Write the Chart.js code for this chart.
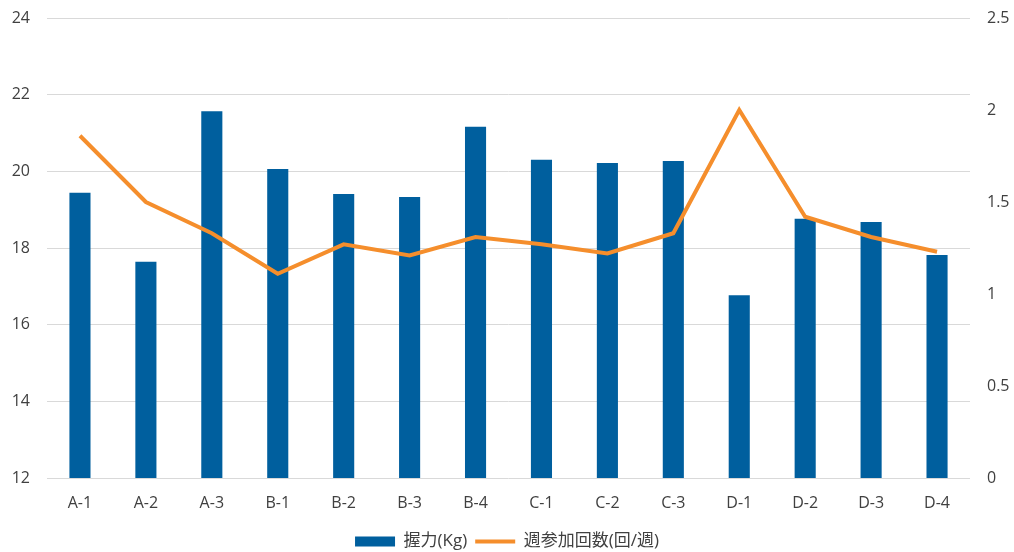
<!DOCTYPE html>
<html>
<head>
<meta charset="utf-8">
<script src="https://cdn.jsdelivr.net/npm/chart.js@4/dist/chart.umd.min.js"></script>
<style>
  html, body { margin: 0; padding: 0; background: #fff; }
  #wrap { width: 1014px; height: 552px; }
</style>
</head>
<body>
<div id="wrap"><canvas id="c" width="1014" height="552"></canvas></div>
<script>
// Groups along the x axis
const categories = ['A-1','A-2','A-3','B-1','B-2','B-3','B-4','C-1','C-2','C-3','D-1','D-2','D-3','D-4'];
// Grip strength (kg), left axis
const gripKg = [19.44, 17.64, 21.57, 20.06, 19.41, 19.33, 21.16, 20.30, 20.22, 20.27, 16.77, 18.76, 18.68, 17.82];
// Sessions attended per week, right axis
const weeklyVisits = [1.86, 1.50, 1.33, 1.11, 1.27, 1.21, 1.31, 1.27, 1.22, 1.33, 2.00, 1.42, 1.31, 1.23];
// Axis ranges and tick steps
const leftTicks = { min: 12, max: 24, step: 2 };
const rightTicks = { min: 0, max: 2.5, step: 0.5 };

const FONT = '"Open Sans", "Noto Sans CJK JP", sans-serif';
const TEXT = '#404040';
const SIZE = 16;

// vertical axes: fixed width, no extra room reserved for label overhang
const fixY = (w) => (s) => { s.width = w; s.paddingTop = 0; s.paddingBottom = 0; };

new Chart(document.getElementById('c'), {
  data: {
    labels: categories,
    datasets: [
      {
        type: 'bar',
        label: '握力(Kg)',
        data: gripKg,
        yAxisID: 'y',
        backgroundColor: '#005F9E',
        borderWidth: 0,
        barPercentage: 0.64,
        categoryPercentage: 0.5,
        order: 1
      },
      {
        type: 'line',
        label: '週参加回数(回/週)',
        data: weeklyVisits,
        yAxisID: 'y1',
        borderColor: '#F58E2C',
        backgroundColor: '#F58E2C',
        borderWidth: 4,
        pointRadius: 0,
        tension: 0,
        order: 0
      }
    ]
  },
  options: {
    responsive: false,
    animation: false,
    layout: { padding: { top: 18, left: 0, right: 0, bottom: -8 } },
    plugins: {
      tooltip: { enabled: false },
      legend: {
        position: 'bottom',
        labels: {
          font: { family: FONT, size: 17 },
          color: TEXT,
          usePointStyle: true,
          boxHeight: 10,
          boxWidth: 40,
          pointStyleWidth: 40,
          padding: 8,
          sort: (a, b) => a.datasetIndex - b.datasetIndex,
          generateLabels: (chart) => chart.data.datasets.map((ds, i) => ({
            text: ds.label,
            datasetIndex: i,
            fillStyle: ds.type === 'bar' ? ds.backgroundColor : ds.borderColor,
            strokeStyle: ds.type === 'bar' ? ds.backgroundColor : ds.borderColor,
            lineWidth: ds.type === 'bar' ? 0 : 4,
            pointStyle: ds.type === 'bar' ? 'rect' : 'line',
            fontColor: TEXT,
            hidden: false
          }))
        }
      }
    },
    scales: {
      x: {
        grid: { display: false },
        border: { display: false },
        ticks: { font: { family: FONT, size: SIZE }, color: TEXT, padding: 8 },
        afterFit: (s) => { s.height = 47; }
      },
      y: {
        position: 'left',
        min: leftTicks.min,
        max: leftTicks.max,
        grid: { color: '#D9D9D9', lineWidth: 1, drawTicks: false },
        border: { display: false },
        ticks: { stepSize: leftTicks.step, font: { family: FONT, size: SIZE }, color: TEXT, padding: 17 },
        afterFit: fixY(47)
      },
      y1: {
        position: 'right',
        min: rightTicks.min,
        max: rightTicks.max,
        grid: { display: false, drawTicks: false },
        border: { display: false },
        ticks: {
          stepSize: rightTicks.step,
          font: { family: FONT, size: SIZE },
          color: TEXT,
          padding: 17,
          callback: (v) => String(v)
        },
        afterFit: fixY(44)
      }
    }
  }
});
</script>
</body>
</html>
